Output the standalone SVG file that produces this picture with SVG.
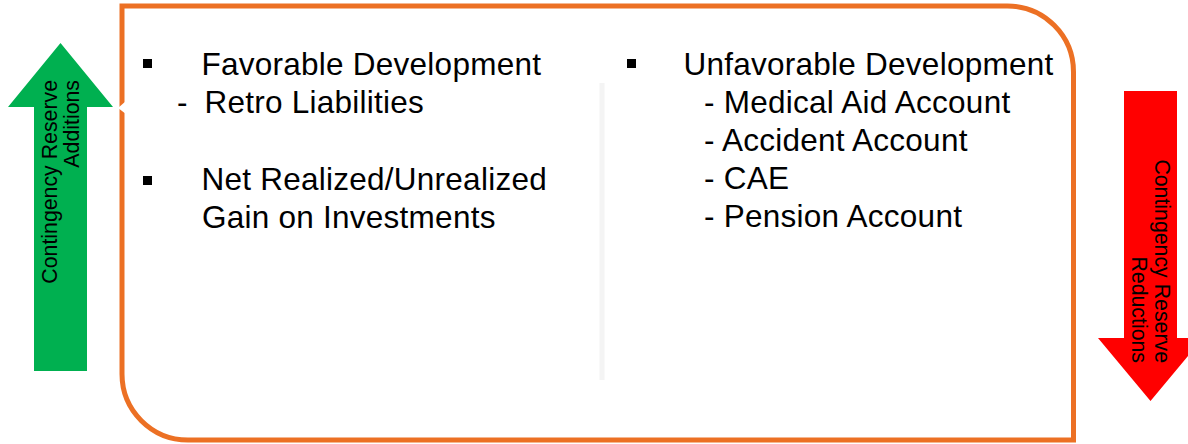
<svg xmlns="http://www.w3.org/2000/svg" width="1188" height="444" viewBox="0 0 1188 444">
  <style>
    .txt { font-family: "Liberation Sans", Arial, sans-serif; font-size: 31.5px; letter-spacing: 0.25px; fill: #000000; }
    .atxt { font-family: "Liberation Sans", Arial, sans-serif; font-size: 21.3px; fill: #000000; }
    .bullet { fill: #000000; }
  </style>
  <rect width="1188" height="444" fill="#FFFFFF"/>

  <g id="frame">
    <path d="M122,6 H1007.5 A66,66 0 0 1 1073.5,72 V440 H188 A66,66 0 0 1 122,374 Z" fill="none" stroke="#EC7024" stroke-width="5"/>
    <rect x="599.5" y="83" width="5" height="297" fill="#F4F4F4"/>
  </g>

  <g id="arrow-additions">
    <polygon points="126,101 118,108 126,114" fill="#FFFFFF"/>
    <polygon points="60.5,43 113,107 87,107 87,371 34,371 34,107 8,107" fill="#00B050"/>
    <text class="atxt" text-anchor="end" transform="translate(56.5,80) rotate(-90)"><tspan x="0" y="0">Contingency Reserve</tspan><tspan x="0" y="22.3">Additions</tspan></text>
  </g>

  <g id="arrow-reductions">
    <polygon points="1124,91 1177,91 1177,338 1203,338 1150.5,401 1098,338 1124,338" fill="#FF0000"/>
    <text class="atxt" text-anchor="end" transform="translate(1154.5,363) rotate(90)"><tspan x="0" y="0">Contingency Reserve</tspan><tspan x="0" y="22.5">Reductions</tspan></text>
  </g>

  <g id="favorable">
    <rect class="bullet" x="143" y="59" width="9" height="9"/>
    <text class="txt" x="201.5" y="75">Favorable Development</text>
    <text class="txt" y="113"><tspan x="177">-</tspan><tspan x="204.5">Retro Liabilities</tspan></text>
  </g>

  <g id="investments">
    <rect class="bullet" x="143" y="176" width="9" height="9"/>
    <text class="txt" x="201.5" y="190">Net Realized/Unrealized</text>
    <text class="txt" x="202" y="228">Gain on Investments</text>
  </g>

  <g id="unfavorable">
    <rect class="bullet" x="627" y="59" width="9" height="9"/>
    <text class="txt" x="683.5" y="75">Unfavorable Development</text>
    <text class="txt" x="704" y="113">- Medical Aid Account</text>
    <text class="txt" x="704" y="151">- Accident Account</text>
    <text class="txt" x="704" y="189">- CAE</text>
    <text class="txt" x="704" y="227">- Pension Account</text>
  </g>

  <g id="connectors"></g>
</svg>
